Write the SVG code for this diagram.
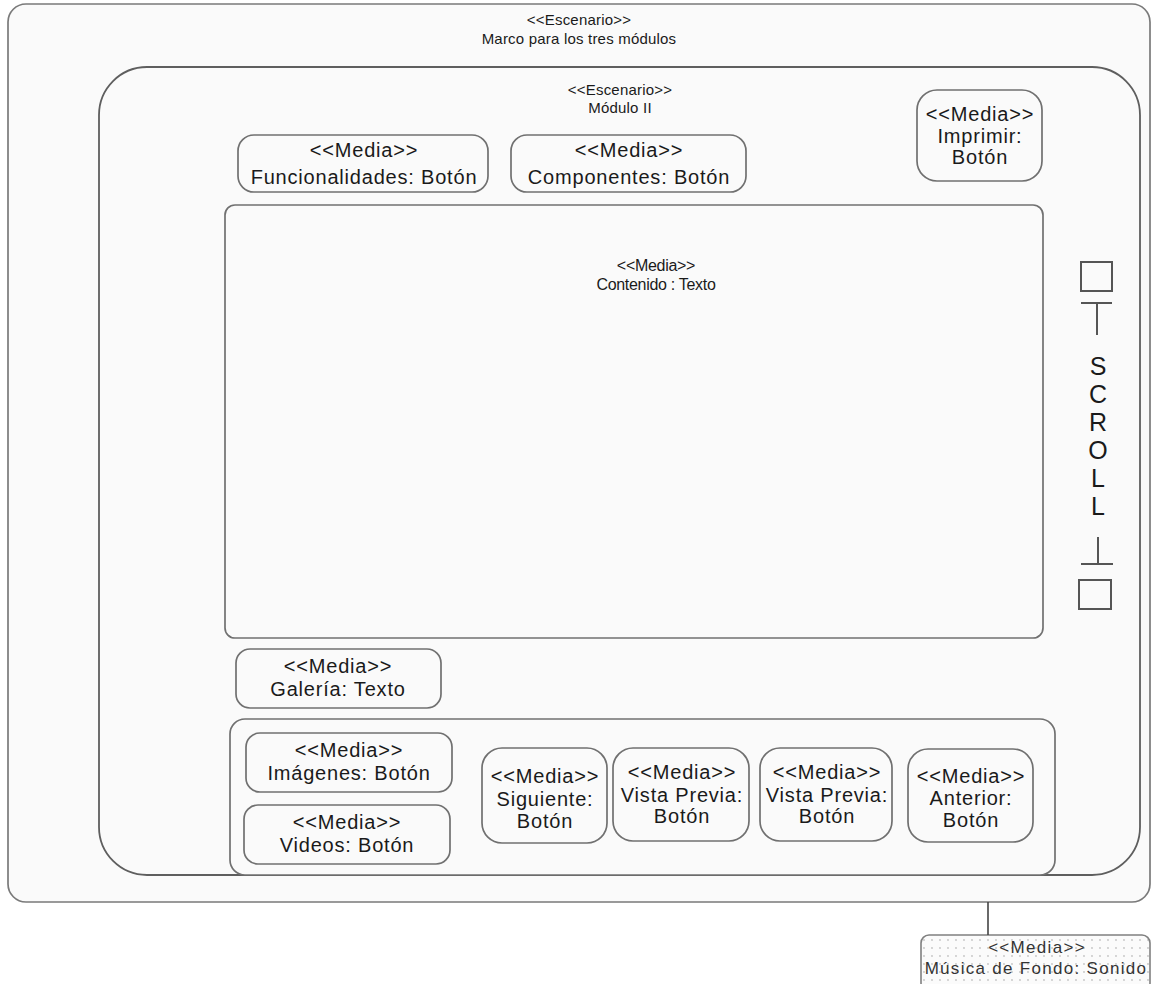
<svg xmlns="http://www.w3.org/2000/svg" width="1151" height="984" viewBox="0 0 1151 984">
  <style>
    .frame { fill: #fafafa; stroke: #7a7a7a; stroke-width: 1.7; }
    .inner { fill: #fafafa; stroke: #5e5e5e; stroke-width: 1.8; }
    .box { fill: #fafafa; stroke: #707070; stroke-width: 1.7; }
    .sym { fill: none; stroke: #555; stroke-width: 2; }
    text { font-family: "Liberation Sans", Arial, sans-serif; fill: #1a1a1a; text-anchor: middle; }
    .t20 { font-size: 20px; letter-spacing: 0.8px; }
    .t15 { font-size: 15px; letter-spacing: 0.2px; }
    .t16 { font-size: 16px; letter-spacing: -0.3px; }
    .t17 { font-size: 17px; letter-spacing: 1.3px; fill: #333; }
    .scroll { font-size: 25px; }
  </style>
  <defs>
    <pattern id="dots" width="8" height="8" patternUnits="userSpaceOnUse">
      <rect width="8" height="8" fill="#fbfbfb"/>
      <circle cx="4" cy="4" r="0.9" fill="#c4c4c4"/>
    </pattern>
  </defs>
  <rect width="1151" height="984" fill="#ffffff"/>

  <!-- Outer scenario frame -->
  <g id="marco">
    <rect class="frame" x="8" y="4" width="1142" height="898" rx="18" ry="18"/>
    <text class="t15" x="579" y="25">&lt;&lt;Escenario&gt;&gt;</text>
    <text class="t15" x="579" y="44">Marco para los tres módulos</text>
  </g>

  <!-- Module II scenario -->
  <g id="modulo2">
    <rect class="inner" x="99" y="67" width="1041" height="808" rx="48" ry="48"/>
    <text class="t15" x="620" y="95">&lt;&lt;Escenario&gt;&gt;</text>
    <text class="t15" x="620" y="113">Módulo II</text>
  </g>

  <g id="funcionalidades">
    <rect class="box" x="238" y="135" width="250" height="57" rx="16" ry="16"/>
    <text class="t20" x="364" y="157">&lt;&lt;Media&gt;&gt;</text>
    <text class="t20" x="364" y="184">Funcionalidades: Botón</text>
  </g>

  <g id="componentes">
    <rect class="box" x="511" y="135" width="235" height="57" rx="16" ry="16"/>
    <text class="t20" x="629" y="157">&lt;&lt;Media&gt;&gt;</text>
    <text class="t20" x="629" y="184">Componentes: Botón</text>
  </g>

  <g id="imprimir">
    <rect class="box" x="917" y="90" width="125" height="91" rx="20" ry="20"/>
    <text class="t20" x="980" y="121">&lt;&lt;Media&gt;&gt;</text>
    <text class="t20" x="980" y="143">Imprimir:</text>
    <text class="t20" x="980" y="164">Botón</text>
  </g>

  <g id="contenido">
    <rect class="box" x="225" y="205" width="818" height="433" rx="10" ry="10"/>
    <text class="t16" x="656" y="271">&lt;&lt;Media&gt;&gt;</text>
    <text class="t16" x="656" y="290">Contenido : Texto</text>
  </g>

  <!-- Scroll bar -->
  <g id="scroll">
    <rect class="sym" x="1081" y="262" width="31" height="29"/>
    <path class="sym" d="M1081 303 H1112 M1097 303 V335"/>
    <text class="scroll" x="1098" y="375">S</text>
    <text class="scroll" x="1098" y="403">C</text>
    <text class="scroll" x="1098" y="431">R</text>
    <text class="scroll" x="1098" y="459">O</text>
    <text class="scroll" x="1098" y="487">L</text>
    <text class="scroll" x="1098" y="515">L</text>
    <path class="sym" d="M1098 537 V564 M1081 564 H1113"/>
    <rect class="sym" x="1079" y="580" width="32" height="29"/>
  </g>

  <g id="galeria">
    <rect class="box" x="236" y="649" width="205" height="59" rx="14" ry="14"/>
    <text class="t20" x="338" y="673">&lt;&lt;Media&gt;&gt;</text>
    <text class="t20" x="338" y="696">Galería: Texto</text>
  </g>

  <g id="navegacion">
    <rect class="box" x="230" y="719" width="825" height="156" rx="15" ry="15"/>
  </g>

  <g id="imagenes">
    <rect class="box" x="246" y="733" width="206" height="59" rx="14" ry="14"/>
    <text class="t20" x="349" y="757">&lt;&lt;Media&gt;&gt;</text>
    <text class="t20" x="349" y="780">Imágenes: Botón</text>
  </g>

  <g id="videos">
    <rect class="box" x="244" y="805" width="206" height="59" rx="14" ry="14"/>
    <text class="t20" x="347" y="829">&lt;&lt;Media&gt;&gt;</text>
    <text class="t20" x="347" y="852">Videos: Botón</text>
  </g>

  <g id="siguiente">
    <rect class="box" x="482" y="748" width="125" height="95" rx="20" ry="20"/>
    <text class="t20" x="545" y="783">&lt;&lt;Media&gt;&gt;</text>
    <text class="t20" x="545" y="806">Siguiente:</text>
    <text class="t20" x="545" y="828">Botón</text>
  </g>

  <g id="vista-previa-1">
    <rect class="box" x="613" y="748" width="136" height="93" rx="20" ry="20"/>
    <text class="t20" x="682" y="779">&lt;&lt;Media&gt;&gt;</text>
    <text class="t20" x="682" y="802">Vista Previa:</text>
    <text class="t20" x="682" y="823">Botón</text>
  </g>

  <g id="vista-previa-2">
    <rect class="box" x="760" y="748" width="132" height="93" rx="20" ry="20"/>
    <text class="t20" x="827" y="779">&lt;&lt;Media&gt;&gt;</text>
    <text class="t20" x="827" y="802">Vista Previa:</text>
    <text class="t20" x="827" y="823">Botón</text>
  </g>

  <g id="anterior">
    <rect class="box" x="908" y="749" width="125" height="93" rx="20" ry="20"/>
    <text class="t20" x="971" y="783">&lt;&lt;Media&gt;&gt;</text>
    <text class="t20" x="971" y="805">Anterior:</text>
    <text class="t20" x="971" y="827">Botón</text>
  </g>

  <g id="musica">
    <rect x="921" y="935" width="229" height="56" rx="8" ry="8" fill="url(#dots)" stroke="#808080" stroke-width="1.6"/>
    <text class="t17" x="1037" y="953">&lt;&lt;Media&gt;&gt;</text>
    <text class="t17" x="1036" y="974">Música de Fondo: Sonido</text>
  </g>

  <!-- Connectors -->
  <g id="connectors">
    <line x1="988" y1="902" x2="988" y2="935" stroke="#444" stroke-width="1.6"/>
  </g>
</svg>
